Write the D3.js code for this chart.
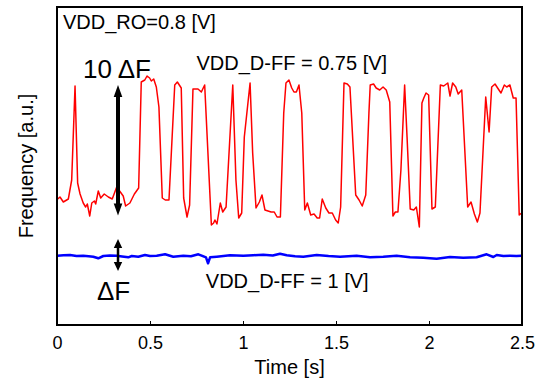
<!DOCTYPE html>
<html>
<head>
<meta charset="utf-8">
<script src="https://cdn.jsdelivr.net/npm/d3@7"></script>
<style>
body { margin: 0; background: #fff; }
svg { display: block; font-family: "Liberation Sans", Arial, sans-serif; }
</style>
</head>
<body>
<div id="chart"></div>
<script>
// VDD_D-FF = 0.75 V trace (red)
const redTime = [0.004, 0.016, 0.034, 0.061, 0.079, 0.097, 0.111, 0.124, 0.141, 0.154, 0.163, 0.176, 0.187, 0.201, 0.208, 0.222, 0.235, 0.254, 0.276, 0.297, 0.321, 0.356, 0.369, 0.392, 0.416, 0.439,
    0.453, 0.472, 0.484, 0.498, 0.507, 0.520, 0.534, 0.548, 0.566, 0.582, 0.602, 0.633, 0.647, 0.668, 0.681, 0.699, 0.713, 0.731, 0.758, 0.776, 0.794,
    0.830, 0.842, 0.849, 0.860, 0.878, 0.891, 0.909, 0.945, 0.962, 0.977, 0.993, 1.007, 1.038, 1.052, 1.070, 1.088, 1.102, 1.118, 1.151, 1.168, 1.183, 1.201,
    1.219, 1.231, 1.247, 1.262, 1.274, 1.287, 1.301, 1.316, 1.332, 1.346, 1.364, 1.382, 1.399, 1.412, 1.426, 1.445, 1.462, 1.480, 1.498, 1.512, 1.525,
    1.543, 1.561, 1.575, 1.606, 1.624, 1.641, 1.660, 1.677, 1.684, 1.702, 1.716, 1.735, 1.753, 1.770, 1.789, 1.806, 1.819, 1.833, 1.849, 1.869, 1.882,
    1.899, 1.918, 1.932, 1.948, 1.962, 1.972, 1.984, 1.998, 2.016, 2.034, 2.061, 2.079, 2.101, 2.113, 2.127, 2.144, 2.157, 2.176, 2.208, 2.226, 2.244,
    2.260, 2.274, 2.305, 2.323, 2.337, 2.355, 2.369, 2.387, 2.405, 2.418, 2.435, 2.453, 2.468, 2.485, 2.498];
const redFreq = [12.6, 12.8, 12.3, 12.6, 14.5, 23.9, 14.2, 13.1, 12.2, 11.8, 12.1, 10.9, 12.2, 12.4, 12.1, 13.4, 12.7, 13.1, 12.8, 12.6, 13.8, 12.9, 11.9, 12.2, 13.1, 13.7,
    24.3, 24.5, 24.9, 24.7, 24.4, 24.6, 23.8, 21.8, 12.7, 12.5, 12.5, 24.0, 24.3, 23.7, 12.7, 10.8, 12.0, 23.6, 23.6, 23.3, 24.0,
    10.0, 10.2, 10.5, 10.1, 12.2, 11.3, 11.8, 24.0, 14.5, 10.7, 11.2, 18.8, 24.2, 17.2, 11.7, 12.3, 13.0, 11.5, 11.3, 11.3, 10.8, 10.8,
    21.2, 24.2, 24.5, 23.7, 23.3, 23.3, 24.0, 21.2, 11.5, 12.2, 11.0, 11.1, 10.7, 10.7, 12.6, 11.7, 11.2, 11.2, 10.5, 10.2, 11.8,
    24.2, 24.1, 23.8, 13.0, 12.5, 11.9, 13.0, 21.2, 24.0, 24.1, 23.7, 23.5, 23.8, 23.5, 22.3, 10.9, 11.3, 11.3, 15.5, 24.0, 18.8,
    11.6, 11.5, 11.8, 9.8, 22.2, 22.7, 23.2, 23.0, 11.6, 11.8, 24.0, 23.9, 24.2, 22.9, 24.2, 23.8, 23.1, 23.5, 11.8, 12.3, 11.1,
    10.3, 11.2, 22.8, 19.3, 23.8, 24.1, 23.7, 23.2, 24.0, 23.8, 24.0, 22.7, 22.7, 11.0, 11.2];

// VDD_D-FF = 1 V trace (blue)
const blueTime = [0.002, 0.035, 0.070, 0.105, 0.141, 0.170, 0.195, 0.222, 0.249, 0.285, 0.321, 0.350, 0.383, 0.402, 0.437, 0.473, 0.500, 0.536, 0.581, 0.625, 0.679,
    0.720, 0.760, 0.801, 0.812, 0.823, 0.859, 0.930, 1.002, 1.055, 1.109, 1.160, 1.199, 1.235, 1.280, 1.324, 1.396, 1.460, 1.522, 1.611, 1.683, 1.754,
    1.826, 1.898, 1.969, 2.041, 2.113, 2.184, 2.256, 2.283, 2.310, 2.346, 2.364, 2.400, 2.435, 2.470, 2.498];
const blueFreq = [6.93, 6.98, 7.0, 6.9, 6.93, 6.88, 6.83, 6.67, 6.9, 6.95, 6.93, 6.85, 6.77, 6.9, 6.83, 7.0, 6.9, 6.93, 7.07, 6.83, 6.93,
    6.88, 7.07, 6.77, 6.17, 6.77, 6.83, 6.97, 6.93, 6.98, 7.03, 6.95, 7.13, 6.97, 6.88, 6.83, 7.0, 6.9, 6.83, 6.93, 6.77, 6.83,
    6.93, 6.77, 6.73, 6.63, 6.8, 6.73, 6.77, 6.93, 7.07, 6.8, 7.0, 6.9, 6.93, 6.9, 6.93];

const xTicks = [0, 0.5, 1, 1.5, 2, 2.5];
const xTickLabels = ["0", "0.5", "1", "1.5", "2", "2.5"];

const width = 541, height = 379;
const margin = { top: 7, right: 19, bottom: 54, left: 57 };

const svg = d3.select("#chart").append("svg")
    .attr("width", width)
    .attr("height", height);

const x = d3.scaleLinear().domain([0, 2.5]).range([margin.left, width - margin.right]);
const y = d3.scaleLinear().domain([0, 31.8]).range([height - margin.bottom, margin.top]);

const line = d3.line().x(d => x(d[0])).y(d => y(d[1]));

svg.append("path")
    .datum(redTime.map((t, i) => [t, redFreq[i]]))
    .attr("fill", "none")
    .attr("stroke", "#ff0000")
    .attr("stroke-width", 1.5)
    .attr("stroke-linejoin", "round")
    .attr("d", line);

svg.append("path")
    .datum(blueTime.map((t, i) => [t, blueFreq[i]]))
    .attr("fill", "none")
    .attr("stroke", "#0000ff")
    .attr("stroke-width", 2.5)
    .attr("stroke-linejoin", "round")
    .attr("d", line);

// axis with inward ticks
const xAxis = d3.axisBottom(x)
    .tickValues(xTicks)
    .tickFormat((d, i) => xTickLabels[i])
    .tickSizeInner(-4)
    .tickSizeOuter(0)
    .tickPadding(11);

const gx = svg.append("g")
    .attr("transform", `translate(0,${height - margin.bottom})`)
    .call(xAxis);
gx.select(".domain").remove();
gx.selectAll(".tick line").attr("stroke", "#000").attr("stroke-width", 1);
gx.selectAll(".tick text")
    .attr("fill", "#000")
    .style("font-size", "18px")
    .style("font-family", "'Liberation Sans', Arial, sans-serif");

// box
svg.append("rect")
    .attr("x", margin.left)
    .attr("y", margin.top)
    .attr("width", width - margin.left - margin.right)
    .attr("height", height - margin.top - margin.bottom)
    .attr("fill", "none")
    .attr("stroke", "#000")
    .attr("stroke-width", 2);

// axis labels
svg.append("text")
    .attr("x", (margin.left + width - margin.right) / 2)
    .attr("y", 374)
    .attr("text-anchor", "middle")
    .style("font-size", "20px")
    .text("Time [s]");

svg.append("text")
    .attr("transform", `translate(33,${(margin.top + height - margin.bottom) / 2}) rotate(-90)`)
    .attr("text-anchor", "middle")
    .style("font-size", "20px")
    .text("Frequency [a.u.]");

// annotations
svg.append("text")
    .attr("x", margin.left + 6)
    .attr("y", margin.top + 22)
    .style("font-size", "20px")
    .text("VDD_RO=0.8 [V]");

svg.append("text")
    .attr("x", x(0.75))
    .attr("y", y(25.55))
    .style("font-size", "20px")
    .text("VDD_D-FF = 0.75 [V]");

svg.append("text")
    .attr("x", x(0.80))
    .attr("y", y(3.7))
    .style("font-size", "20px")
    .text("VDD_D-FF = 1 [V]");

svg.append("text")
    .attr("x", x(0.14))
    .attr("y", y(24.7))
    .style("font-size", "26px")
    .text("10 \u0394F");

svg.append("text")
    .attr("x", x(0.215))
    .attr("y", y(2.5))
    .style("font-size", "26px")
    .text("\u0394F");

// double arrows
function doubleArrow(t, v0, v1, shaft, headLen, headHalf) {
    const ax = x(t), yTop = y(v0), yBot = y(v1);
    svg.append("line")
        .attr("x1", ax).attr("x2", ax)
        .attr("y1", yTop + headLen - 1).attr("y2", yBot - headLen + 1)
        .attr("stroke", "#000")
        .attr("stroke-width", shaft);
    svg.append("path")
        .attr("d", `M${ax},${yTop}L${ax - headHalf},${yTop + headLen}L${ax + headHalf},${yTop + headLen}Z`)
        .attr("fill", "#000");
    svg.append("path")
        .attr("d", `M${ax},${yBot}L${ax - headHalf},${yBot - headLen}L${ax + headHalf},${yBot - headLen}Z`)
        .attr("fill", "#000");
}

doubleArrow(0.328, 24.0, 10.95, 4, 12, 4.3);
doubleArrow(0.328, 8.6, 5.4, 2.5, 9, 4.2);
</script>
</body>
</html>
